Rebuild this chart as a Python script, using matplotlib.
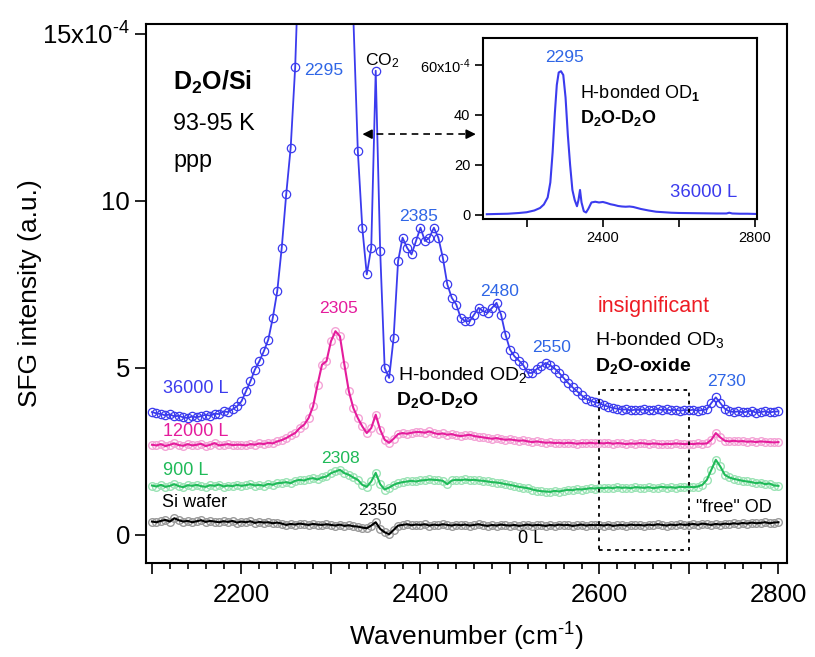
import numpy as np
import matplotlib
matplotlib.use('Agg')
import matplotlib.pyplot as plt
from matplotlib.ticker import MultipleLocator, FuncFormatter

plt.rcParams.update({'font.family': 'Liberation Sans',
                     'mathtext.fontset': 'custom',
                     'mathtext.rm': 'Liberation Sans',
                     'mathtext.bf': 'Liberation Sans:bold',
                     'mathtext.it': 'Liberation Sans:italic'})

# wavenumber grid of the spectra (cm-1)
wn = np.arange(2100, 2801, 5)

# 36000 L (offset spectrum, x1e-4)
sfg_36000 = [
    3.68, 3.64, 3.62, 3.58, 3.61, 3.55, 3.57, 3.52, 3.50, 3.55,
    3.52, 3.56, 3.60, 3.57, 3.63, 3.62, 3.70, 3.68, 3.76, 3.85,
    4.00, 4.30, 4.60, 4.95, 5.20, 5.50, 5.85, 6.50, 7.30, 8.60,
    10.2, 11.6, 14.0, 18.0, 24.0, 32.0, 42.0, 50.0, 56.0, 58.0,
    55.0, 46.0, 36.0, 27.0, 20.0, 15.5, 11.5, 9.20, 7.80, 8.60,
    13.9, 8.50, 5.00, 4.70, 5.90, 8.20, 8.90, 8.60, 8.40, 8.80,
    9.20, 8.80, 8.90, 9.20, 8.90, 8.30, 7.50, 7.10, 6.90, 6.50,
    6.40, 6.40, 6.60, 6.80, 6.70, 6.65, 6.80, 6.95, 6.60, 6.00,
    5.55, 5.35, 5.22, 5.08, 4.85, 4.85, 4.97, 5.05, 5.15, 5.08,
    4.98, 4.85, 4.70, 4.55, 4.42, 4.30, 4.18, 4.08, 4.02, 3.97,
    3.95, 3.88, 3.84, 3.80, 3.78, 3.75, 3.76, 3.73, 3.75, 3.74,
    3.76, 3.73, 3.75, 3.77, 3.74, 3.76, 3.73, 3.75, 3.72, 3.74,
    3.73, 3.75, 3.72, 3.74, 3.76, 3.95, 4.12, 3.95, 3.78, 3.70,
    3.68, 3.70, 3.67, 3.69, 3.72, 3.66, 3.68, 3.70, 3.67, 3.69,
    3.70]

# 12000 L
sfg_12000 = [
    2.70, 2.68, 2.72, 2.66, 2.70, 2.74, 2.69, 2.67, 2.72, 2.68,
    2.70, 2.73, 2.66, 2.70, 2.75, 2.68, 2.70, 2.72, 2.69, 2.70,
    2.70, 2.68, 2.72, 2.70, 2.74, 2.72, 2.76, 2.74, 2.80, 2.84,
    2.90, 2.98, 3.05, 3.20, 3.30, 3.50, 3.85, 4.50, 5.10, 5.20,
    5.80, 6.10, 5.95, 5.10, 4.30, 3.80, 3.50, 3.25, 3.05, 3.20,
    3.60, 3.15, 2.85, 2.76, 2.88, 3.02, 3.05, 3.03, 3.06, 3.08,
    3.08, 3.06, 3.10, 3.05, 3.02, 3.04, 3.00, 3.02, 2.98, 2.96,
    2.98, 3.00, 2.96, 2.94, 2.92, 2.90, 2.88, 2.90, 2.87, 2.85,
    2.86, 2.84, 2.82, 2.83, 2.80, 2.78, 2.80, 2.78, 2.76, 2.77,
    2.75, 2.76, 2.74, 2.76, 2.75, 2.73, 2.75, 2.74, 2.76, 2.74,
    2.75, 2.74, 2.76, 2.73, 2.75, 2.74, 2.72, 2.74, 2.73, 2.75,
    2.74, 2.72, 2.74, 2.73, 2.71, 2.73, 2.72, 2.74, 2.73, 2.72,
    2.73, 2.72, 2.74, 2.73, 2.74, 2.85, 3.05, 2.92, 2.82, 2.80,
    2.82, 2.80, 2.81, 2.79, 2.80, 2.78, 2.80, 2.79, 2.78, 2.77,
    2.78]

# 900 L
sfg_900 = [
    1.48, 1.45, 1.50, 1.44, 1.47, 1.52, 1.46, 1.43, 1.49, 1.47,
    1.50, 1.46, 1.44, 1.49, 1.47, 1.51, 1.45, 1.48, 1.46, 1.50,
    1.47, 1.49, 1.52, 1.48, 1.50, 1.47, 1.53, 1.50, 1.55, 1.56,
    1.58, 1.55, 1.62, 1.65, 1.63, 1.68, 1.70, 1.66, 1.72, 1.75,
    1.85, 1.90, 1.95, 1.85, 1.80, 1.72, 1.65, 1.50, 1.44, 1.60,
    1.86, 1.52, 1.36, 1.42, 1.50, 1.55, 1.58, 1.60, 1.62, 1.60,
    1.63, 1.64, 1.66, 1.65, 1.64, 1.62, 1.52, 1.63, 1.65, 1.64,
    1.66, 1.64, 1.65, 1.63, 1.62, 1.60, 1.58, 1.57, 1.55, 1.52,
    1.50, 1.47, 1.44, 1.42, 1.40, 1.36, 1.33, 1.31, 1.30, 1.29,
    1.32, 1.30, 1.33, 1.35, 1.34, 1.37, 1.36, 1.38, 1.40, 1.39,
    1.41, 1.40, 1.42, 1.40, 1.43, 1.41, 1.42, 1.40, 1.43, 1.42,
    1.41, 1.43, 1.40, 1.42, 1.44, 1.42, 1.43, 1.41, 1.44, 1.43,
    1.44, 1.43, 1.45, 1.50, 1.65, 1.95, 2.25, 2.05, 1.80, 1.72,
    1.68, 1.65, 1.62, 1.60, 1.58, 1.55, 1.57, 1.52, 1.54, 1.48,
    1.47]

# bare Si wafer, 0 L
sfg_0 = [
    0.40, 0.38, 0.42, 0.45, 0.40, 0.50, 0.44, 0.40, 0.42, 0.38,
    0.41, 0.44, 0.39, 0.42, 0.40, 0.38, 0.41, 0.39, 0.42, 0.37,
    0.40, 0.38, 0.41, 0.36, 0.39, 0.37, 0.38, 0.35, 0.37, 0.34,
    0.30, 0.33, 0.31, 0.34, 0.32, 0.30, 0.33, 0.31, 0.30, 0.32,
    0.30, 0.28, 0.31, 0.27, 0.29, 0.26, 0.25, 0.22, 0.20, 0.28,
    0.38, 0.18, 0.08, 0.02, 0.15, 0.28, 0.30, 0.32, 0.29, 0.31,
    0.30, 0.32, 0.28, 0.31, 0.29, 0.32, 0.30, 0.28, 0.31, 0.29,
    0.31, 0.28, 0.30, 0.32, 0.29, 0.27, 0.30, 0.28, 0.31, 0.29,
    0.28, 0.30, 0.27, 0.29, 0.31, 0.28, 0.30, 0.29, 0.27, 0.30,
    0.28, 0.31, 0.29, 0.30, 0.27, 0.29, 0.31, 0.28, 0.30, 0.29,
    0.30, 0.28, 0.31, 0.27, 0.29, 0.30, 0.28, 0.31, 0.29, 0.30,
    0.28, 0.31, 0.29, 0.32, 0.30, 0.28, 0.31, 0.29, 0.32, 0.30,
    0.31, 0.33, 0.30, 0.34, 0.32, 0.30, 0.33, 0.31, 0.34, 0.32,
    0.35, 0.33, 0.36, 0.34, 0.37, 0.35, 0.36, 0.38, 0.35, 0.37,
    0.38]

# inset: full 36000 L spectrum
inset_wn = [2095, 2120, 2150, 2180, 2200, 2220, 2235, 2245, 2255, 2262,
            2268, 2274, 2279, 2284, 2290, 2296, 2302, 2308, 2314, 2320,
            2326, 2332, 2336, 2340, 2344, 2350, 2356, 2362, 2370, 2380,
            2390, 2400, 2410, 2420, 2430, 2440, 2450, 2460, 2470, 2480,
            2490, 2500, 2520, 2540, 2560, 2580, 2600, 2650, 2700, 2725,
            2732, 2740, 2760, 2780, 2805]
inset_sfg = [0.3, 0.4, 0.5, 0.8, 1.1, 1.8, 2.8, 4.2, 7.0, 13.0,
             25.0, 41.0, 52.0, 57.0, 57.5, 56.0, 47.0, 32.0, 20.0, 10.0,
             6.0, 3.5, 6.0, 10.0, 5.0, 1.5, 1.0, 2.5, 5.0, 5.3,
             5.0, 5.2, 4.8, 4.3, 4.0, 3.6, 3.4, 3.3, 3.4, 3.2,
             2.8, 2.4, 1.8, 1.3, 1.1, 0.9, 0.8, 0.7, 0.6, 0.6,
             0.9, 0.6, 0.5, 0.5, 0.4]

blue = '#3b3bee'
blue_txt = '#2f66e6'
pink = '#e41c9c'
green = '#1fba58'
red = '#ee1c24'

fig = plt.figure(figsize=(8.15, 6.57), dpi=100)
ax = fig.add_axes([0.1791, 0.1431, 0.7865, 0.8204])

# traces with light halo markers
for y, col, halo in [(sfg_0, 'black', '#9a9a9a'), (sfg_900, green, '#9be3b5'),
                     (sfg_12000, pink, '#f4a3d6')]:
    ax.plot(wn, y, ls='none', marker='o', ms=5.5, mfc='none', mec=halo, mew=1.0)
    ax.plot(wn, y, color=col, lw=1.5)
ax.plot(wn, sfg_36000, color=blue, lw=1.3, marker='o', ms=6, mfc='none', mec=blue, mew=0.9)

ax.set_xlim(2093.3, 2809.5)
ax.set_ylim(-0.84, 15.3)
ax.xaxis.set_major_locator(MultipleLocator(100))
ax.xaxis.set_minor_locator(MultipleLocator(20))
ax.xaxis.set_major_formatter(FuncFormatter(lambda v, p: f'{int(round(v))}' if round(v) % 200 == 0 else ''))
ax.set_yticks([0, 5, 10, 15])
ax.set_yticklabels(['0', '5', '10', r'15x10$^{\text{-4}}$'])
ax.tick_params(axis='both', which='major', direction='out', length=8, width=1.2, labelsize=18.5)
ax.tick_params(axis='x', which='major', pad=6.5)
ax.tick_params(axis='y', which='major', pad=3.5)
ax.tick_params(axis='x', which='minor', direction='out', length=4.5, width=1.2)
for s in ax.spines.values():
    s.set_linewidth(1.5)

ax.set_xlabel(r'Wavenumber (cm$^{\text{-1}}$)', fontsize=19)
ax.xaxis.set_label_coords(0.5, -0.108)
ax.set_ylabel('SFG intensity (a.u.)', fontsize=19)
ax.yaxis.set_label_coords(-0.162, 0.5)

# annotations
ax.text(2123.5, 13.56, r'D$_\mathbf{2}$O/Si', fontsize=18, fontweight='bold', va='center')
ax.text(2123.5, 12.33, '93-95 K', fontsize=16.8, va='center')
ax.text(2123.5, 11.2, 'ppp', fontsize=16.8, va='center')

ax.text(2292, 13.9, '2295', color=blue_txt, fontsize=12.6, ha='center', va='center')
ax.text(2357, 14.2, r'CO$_2$', color='black', fontsize=12.6, ha='center', va='center')
ax.text(2398, 9.55, '2385', color=blue_txt, fontsize=12.6, ha='center', va='center')
ax.text(2488, 7.3, '2480', color=blue_txt, fontsize=12.6, ha='center', va='center')
ax.text(2547, 5.6, '2550', color=blue_txt, fontsize=12.6, ha='center', va='center')
ax.text(2742, 4.6, '2730', color=blue_txt, fontsize=12.6, ha='center', va='center')
ax.text(2308, 6.77, '2305', color=pink, fontsize=12.6, ha='center', va='center')
ax.text(2311, 2.28, '2308', color=green, fontsize=12.6, ha='center', va='center')
ax.text(2352.5, 0.72, '2350', color='black', fontsize=12.6, ha='center', va='center')

ax.text(2112, 4.37, '36000 L', color=blue, fontsize=13, va='center')
ax.text(2112, 3.11, '12000 L', color=pink, fontsize=13, va='center')
ax.text(2112, 1.92, '900 L', color=green, fontsize=13, va='center')
ax.text(2111, 0.96, 'Si wafer', color='black', fontsize=13, va='center')
ax.text(2523, -0.12, '0 L', color='black', fontsize=13, ha='center', va='center')
ax.text(2750, 0.81, '"free" OD', color='black', fontsize=13, ha='center', va='center')

ax.text(2375, 4.79, r'H-bonded OD$_2$', fontsize=14, va='center')
ax.text(2373, 4.04, r'D$_\mathbf{2}$O-D$_\mathbf{2}$O', fontsize=14, fontweight='bold', va='center')
ax.text(2660, 6.83, 'insignificant', color=red, fontsize=15.5, ha='center', va='center')
ax.text(2595, 5.85, r'H-bonded OD$_3$', fontsize=14, va='center')
ax.text(2595, 5.05, r'D$_\mathbf{2}$O-oxide', fontsize=14, fontweight='bold', va='center')

# dotted box around the OD3 region
ax.plot([2600, 2700, 2700, 2600, 2600], [-0.45, -0.45, 4.34, 4.34, -0.45],
        color='black', ls=(0, (2, 2.5)), lw=1.3)

# dashed double arrow toward the inset
ax.plot([2338, 2458], [12.0, 12.0], color='black', ls=(0, (4, 3)), lw=1.2)
ax.annotate('', xy=(2332, 12.0), xytext=(2345, 12.0),
            arrowprops=dict(arrowstyle='-|>', color='black', lw=1.2, mutation_scale=14))
ax.annotate('', xy=(2465, 12.0), xytext=(2452, 12.0),
            arrowprops=dict(arrowstyle='-|>', color='black', lw=1.2, mutation_scale=14))

# inset
axi = fig.add_axes([0.5926, 0.6667, 0.3362, 0.2755])
axi.plot(inset_wn, inset_sfg, color=blue, lw=1.5)
axi.set_xlim(2085, 2805)
axi.set_ylim(-1.6, 70.8)
axi.set_xticks([2200, 2400, 2600, 2800])
axi.set_xticklabels(['', '2400', '', '2800'])
axi.set_yticks([0, 20, 40, 60])
axi.set_yticklabels(['0', '20', '40', r'60x10$^{\text{-4}}$'])
axi.tick_params(direction='out', length=6, width=1.2, labelsize=10.5, pad=3)
for s in axi.spines.values():
    s.set_linewidth(1.5)
axi.text(2300, 62.8, '2295', color=blue_txt, fontsize=12.5, ha='center', va='center')
axi.text(2340, 48.8, r'H-bonded OD$_\mathbf{1}$', fontsize=13, va='center')
axi.text(2340, 38.8, r'D$_\mathbf{2}$O-D$_\mathbf{2}$O', fontsize=13, fontweight='bold', va='center')
axi.text(2753, 8.8, '36000 L', color=blue, fontsize=13.3, ha='right', va='center')

fig.savefig('out.png', dpi=100)
plt.close(fig)
